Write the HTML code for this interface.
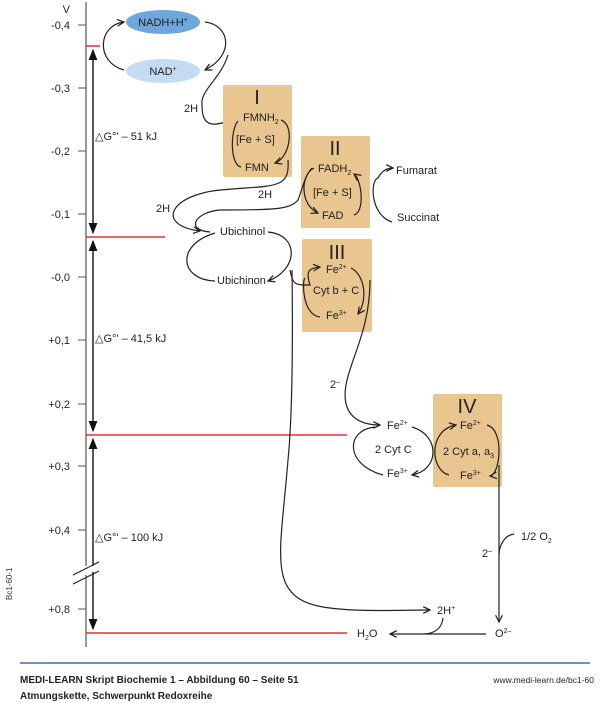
<!DOCTYPE html>
<html><head><meta charset="utf-8"><style>
body{margin:0;background:#fff}
svg{display:block;font-family:"Liberation Sans",sans-serif}
</style></head><body>
<svg width="600" height="703" viewBox="0 0 600 703" xmlns="http://www.w3.org/2000/svg">
<defs>
<marker id="a" viewBox="0 0 10 10" refX="9" refY="5" markerWidth="7" markerHeight="7" orient="auto"><path d="M1,1 L9,5 L1,9" fill="none" stroke="#222" stroke-width="1.5"/></marker>
<marker id="t" viewBox="0 0 10 10" refX="9" refY="5" markerWidth="8" markerHeight="8" orient="auto-start-reverse"><path d="M0,1 L10,5 L0,9z" fill="#111"/></marker>
</defs>
<g font-size="11" fill="#222">
<line x1="86" y1="2" x2="86" y2="647" stroke="#555" stroke-width="1.2"/>
<g stroke="#555"><line x1="78" y1="25" x2="86" y2="25"/><line x1="78" y1="88" x2="86" y2="88"/><line x1="78" y1="151" x2="86" y2="151"/><line x1="78" y1="214" x2="86" y2="214"/><line x1="78" y1="277" x2="86" y2="277"/><line x1="78" y1="340" x2="86" y2="340"/><line x1="78" y1="404" x2="86" y2="404"/><line x1="78" y1="466" x2="86" y2="466"/><line x1="78" y1="530" x2="86" y2="530"/><line x1="78" y1="609" x2="86" y2="609"/></g>
<g text-anchor="end"><text x="70" y="13">V</text><text x="70" y="29">-0,4</text><text x="70" y="92">-0,3</text><text x="70" y="155">-0,2</text><text x="70" y="218">-0,1</text><text x="70" y="281">-0,0</text><text x="70" y="344">+0,1</text><text x="70" y="408">+0,2</text><text x="70" y="470">+0,3</text><text x="70" y="534">+0,4</text><text x="70" y="613">+0,8</text></g>
<rect x="80" y="566" width="18" height="9" fill="#fff"/>
<line x1="73" y1="575" x2="99" y2="562" stroke="#333"/><line x1="73" y1="584" x2="99" y2="571" stroke="#333"/>
<text x="12" y="600" font-size="8" transform="rotate(-90 12 600)" fill="#333">Bc1-60-1</text>
<g stroke="#e0303a" stroke-width="1.5"><line x1="86" y1="46" x2="100" y2="46"/><line x1="86" y1="237" x2="165" y2="237"/><line x1="86" y1="435" x2="347" y2="435"/><line x1="86" y1="633" x2="347" y2="633"/></g>
<g stroke="#111" stroke-width="1.4"><line x1="93" y1="50" x2="93" y2="233" marker-start="url(#t)" marker-end="url(#t)"/><line x1="93" y1="241" x2="93" y2="431" marker-start="url(#t)" marker-end="url(#t)"/><line x1="93" y1="439" x2="93" y2="629" marker-start="url(#t)" marker-end="url(#t)"/></g>
<rect x="88" y="566" width="10" height="6" fill="#fff"/>
<line x1="73" y1="575" x2="99" y2="562" stroke="#333"/><line x1="73" y1="584" x2="99" y2="571" stroke="#333"/>
<text x="95" y="140">△G°'  – 51 kJ</text><text x="95" y="342">△G°'  – 41,5 kJ</text><text x="95" y="541">△G°'  – 100 kJ</text>
<ellipse cx="163" cy="22" rx="37" ry="12" fill="#6fa6dc"/><ellipse cx="163" cy="71" rx="37" ry="12" fill="#c4dcf3"/>
<text x="163" y="26" text-anchor="middle">NADH+H<tspan font-size="7" dy="-4">+</tspan></text>
<text x="163" y="75" text-anchor="middle">NAD<tspan font-size="7" dy="-4">+</tspan></text>
<g fill="none" stroke="#222" stroke-width="1.2">
<path d="M124,70 C95,62 98,25 124,22" marker-end="url(#a)"/>
<path d="M205,22 C230,25 235,55 205,70" marker-end="url(#a)"/>
<path d="M228,55 C220,80 200,90 202,105 C202,130 215,126 238,118" marker-end="url(#a)"/>
</g>
<g fill="#e9c590"><rect x="223" y="85" width="69" height="92" rx="2"/><rect x="301" y="136" width="69" height="92" rx="2"/><rect x="302" y="239" width="70" height="93" rx="2"/><rect x="433" y="394" width="69" height="93" rx="2"/></g>
<g font-size="20" text-anchor="middle"><text x="257" y="104">I</text><text x="335" y="155">II</text><text x="337" y="259">III</text><text x="467" y="413">IV</text></g>
<text x="184" y="112">2H</text>
<text x="243" y="121">FMNH<tspan font-size="7" dy="3">2</tspan></text>
<text x="236" y="143">[Fe + S]</text>
<text x="245" y="171">FMN</text>
<text x="318" y="172">FADH<tspan font-size="7" dy="3">2</tspan></text>
<text x="313" y="196">[Fe + S]</text>
<text x="322" y="219">FAD</text>
<text x="396" y="174">Fumarat</text><text x="397" y="221">Succinat</text>
<text x="258" y="198">2H</text><text x="156" y="212">2H</text>
<text x="220" y="235">Ubichinol</text><text x="217" y="284">Ubichinon</text>
<text x="326" y="273">Fe<tspan font-size="7" dy="-4">2+</tspan></text>
<text x="313" y="294">Cyt b + C</text>
<text x="326" y="319">Fe<tspan font-size="7" dy="-4">3+</tspan></text>
<text x="330" y="388">2<tspan font-size="7" dy="-4">–</tspan></text>
<text x="387" y="429">Fe<tspan font-size="7" dy="-4">2+</tspan></text>
<text x="375" y="453">2 Cyt C</text>
<text x="387" y="477">Fe<tspan font-size="7" dy="-4">3+</tspan></text>
<text x="460" y="429">Fe<tspan font-size="7" dy="-4">2+</tspan></text>
<text x="443" y="455">2 Cyt a, a<tspan font-size="7" dy="3">3</tspan></text>
<text x="460" y="479">Fe<tspan font-size="7" dy="-4">3+</tspan></text>
<text x="521" y="540">1/2 O<tspan font-size="7" dy="3">2</tspan></text>
<text x="482" y="557">2<tspan font-size="7" dy="-4">–</tspan></text>
<text x="437" y="614">2H<tspan font-size="7" dy="-4">+</tspan></text>
<text x="357" y="637">H<tspan font-size="7" dy="3">2</tspan><tspan dy="-3">O</tspan></text>
<text x="495" y="637">O<tspan font-size="7" dy="-4">2–</tspan></text>
<g fill="none" stroke="#222" stroke-width="1.2">
<path d="M281,120 C295,125 290,158 275,163" marker-end="url(#a)"/>
<path d="M241,167 C230,165 230,130 238,121"/>
<path d="M288,160 C290,190 275,185 220,190 C170,195 155,225 200,231" marker-end="url(#a)"/>
<path d="M312,168 C305,175 302,190 298,200 C290,210 270,210 220,210 C195,212 185,230 210,232" />
<path d="M314,168 C300,175 300,205 318,213" marker-end="url(#a)"/>
<path d="M354,215 C365,212 362,180 354,174" marker-end="url(#a)"/>
<path d="M392,222 C370,215 370,180 378,178 C382,170 388,168 393,168" marker-end="url(#a)"/>
<path d="M215,233 C175,245 180,280 215,281"/>
<path d="M268,232 C300,235 298,270 268,281" marker-end="url(#a)"/>
<path d="M290,270 C293,285 295,285 310,285 C305,270 310,268 320,267" marker-end="url(#a)"/>
<path d="M320,317 C302,315 302,280 305,278"/>
<path d="M351,268 C365,275 368,300 358,314" marker-end="url(#a)"/>
<path d="M292,270 C293,350 292,420 288,460 C280,560 265,600 330,608 C360,612 400,610 430,610" marker-end="url(#a)"/>
<path d="M370,280 C370,330 350,360 346,385 C340,420 365,425 380,425" marker-end="url(#a)"/>
<path d="M383,475 C345,465 345,430 375,427"/>
<path d="M412,427 C440,435 440,470 412,475" marker-end="url(#a)"/>
<path d="M449,475 C430,470 428,430 456,425" marker-end="url(#a)"/>
<path d="M487,425 C505,430 500,475 490,476" marker-end="url(#a)"/>
<line x1="499" y1="465" x2="499" y2="622" marker-end="url(#a)"/>
<path d="M514,534 C505,535 499,545 499,555"/>
<line x1="486" y1="634" x2="390" y2="634" marker-end="url(#a)"/>
<path d="M443,618 C442,628 435,633 425,634"/>
</g>
<line x1="20" y1="663" x2="590" y2="663" stroke="#3a6fb0" stroke-width="1.5"/>
<text x="20" y="683" font-size="10" font-weight="bold">MEDI-LEARN Skript Biochemie 1 – Abbildung 60 – Seite 51</text>
<text x="20" y="699" font-size="10" font-weight="bold">Atmungskette, Schwerpunkt Redoxreihe</text>
<text x="594" y="683" font-size="8.5" text-anchor="end">www.medi-learn.de/bc1-60</text>
</g>
</svg>
</body></html>
